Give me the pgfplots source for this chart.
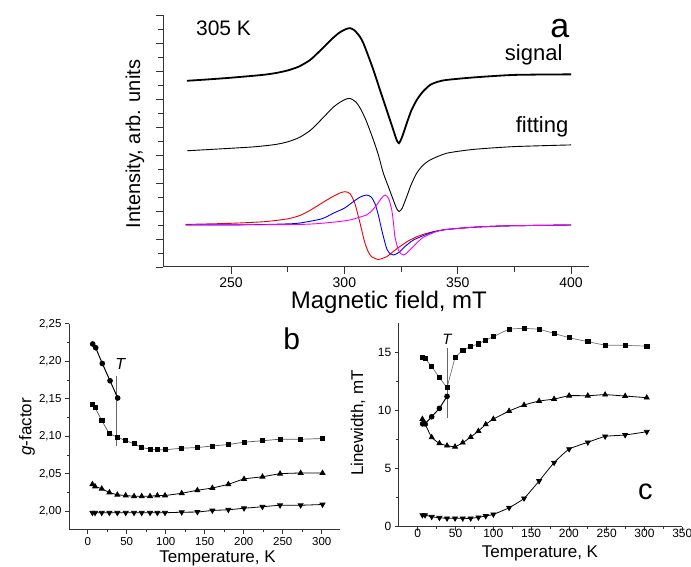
\documentclass[border=0pt]{standalone}
\usepackage{fontspec}
\setmainfont{Liberation Sans}
\usepackage{pgfplots}
\pgfplotsset{compat=1.18}
\newcommand\fs[1]{\fontsize{#1}{#1}\selectfont}
\definecolor{cred}{RGB}{235,0,0}
\definecolor{cblue}{RGB}{0,0,245}
\definecolor{cmag}{RGB}{245,0,245}
\pgfplotsset{
  panel/.style={scale only axis, anchor=south west, axis lines=left,
    axis line style={-, line width=1pt, black!80},
    tick align=outside, tick style={line width=0.8pt, black!80},
    major tick length=5pt, minor tick length=3pt,
    /pgf/number format/assume math mode=true, clip=false},
  sq/.style={line width=0.7pt, mark=square*, mark size=2.1pt, mark options={draw=black, fill=black}},
  ci/.style={black, line width=1pt, mark=*, mark size=2.3pt, mark options={draw=black, fill=black}},
  tu/.style={black, line width=0.8pt, mark=triangle*, mark size=2.8pt, mark options={draw=black, fill=black}},
  td/.style={black, line width=0.8pt, mark=triangle*, mark size=2.8pt, mark options={draw=black, fill=black, rotate=180}},
}

\begin{document}
\begin{tikzpicture}
\path[use as bounding box] (0pt,0pt) rectangle (691pt,567pt);

% panel a
\begin{axis}[panel, at={(163pt,300pt)}, width=426.2pt, height=252pt,
  xmin=220, xmax=408, ymin=0, ymax=9,
  xtick={250,300,350,400}, minor x tick num=1,
  ytick={0,...,9}, yticklabels={}, minor y tick num=1,
  major tick length=7pt, minor tick length=5pt,
  xticklabel style={font=\fs{14}},
  xlabel={Magnetic field, mT}, ylabel={Intensity, arb. units},
  xlabel style={font=\fs{24}, at={(axis description cs:0.53,-0.163)}, anchor=base},
  ylabel style={font=\fs{20}, at={(axis description cs:-0.066,0.488)}, anchor=center},
]
\addplot[black, line width=1.8pt, smooth, tension=0.4] coordinates {
(230.5,6.65)(240,6.70)(250,6.76)(260,6.83)(265,6.87)(270,6.93)(275,7.02)(280,7.16)
(285,7.40)(290,7.78)(295,8.18)(298,8.38)(300.5,8.49)(302.5,8.53)(304.5,8.45)
(306.9,8.22)(308.4,7.99)(310.5,7.55)(312.8,7.04)(315,6.50)(317.2,5.96)(319.5,5.40)
(321.6,4.89)(323,4.55)(324.1,4.42)(325.5,4.65)(327.5,5.13)(329.5,5.58)(331.9,5.96)
(334.5,6.25)(337.8,6.50)(341,6.61)(345,6.68)(357,6.77)(375,6.86)(400,6.88)};
\addplot[black, line width=0.9pt, smooth, tension=0.4] coordinates {
(230.5,4.15)(250,4.24)(260,4.29)(265,4.33)(270,4.38)(275,4.47)(280,4.62)(285,4.88)
(290,5.28)(295,5.70)(298,5.88)(300.5,5.99)(302.5,6.02)(305,5.90)(307,5.67)
(309.5,5.25)(312.8,4.54)(315,4.00)(317.2,3.35)(319.5,2.85)(321.6,2.39)(323,2.10)
(324.1,1.98)(325.5,2.10)(327.5,2.51)(329.5,2.95)(331.9,3.35)(334.5,3.62)(337.8,3.82)
(345,4.06)(357,4.20)(375,4.30)(400,4.36)};
\addplot[cred, line width=0.9pt, smooth, tension=0.4] coordinates {
(230,1.52)(250,1.56)(265,1.62)(275,1.72)(280.4,1.84)(284.8,2.02)(290,2.28)(295,2.52)
(298,2.64)(300.3,2.69)(302.5,2.62)(304.5,2.30)(306.2,1.80)(307.7,1.30)(309.1,0.85)
(310.5,0.55)(312,0.37)(315,0.27)(318.7,0.37)(321.5,0.55)(324.5,0.73)(328,0.92)
(331.9,1.08)(335,1.17)(339.2,1.26)(345,1.34)(357,1.42)(372,1.47)(400,1.50)};
\addplot[cblue, line width=0.9pt, smooth, tension=0.4] coordinates {
(230,1.50)(260,1.51)(275,1.54)(280.4,1.57)(290,1.72)(295.1,1.92)(300,2.10)(303.9,2.33)
(307,2.50)(309.8,2.57)(311.8,2.50)(313.5,2.27)(315,1.85)(316.5,1.32)(317.8,0.90)
(318.9,0.61)(320.3,0.47)(321.6,0.43)(323,0.47)(324.5,0.55)(327,0.75)(330.4,0.96)
(334.8,1.12)(339.2,1.25)(345,1.34)(357,1.42)(372,1.47)(400,1.50)};
\addplot[cmag, line width=0.9pt, smooth, tension=0.4] coordinates {
(230,1.50)(280.4,1.52)(295,1.60)(302.5,1.68)(306,1.76)(309.8,1.86)(312,2.00)
(314.2,2.21)(316.3,2.45)(317.9,2.57)(319.5,2.45)(320.9,2.04)(321.7,1.55)(322.3,1.08)
(323.8,0.61)(325,0.47)(326,0.43)(327.3,0.48)(328.9,0.61)(331.5,0.82)(334.8,1.06)
(340.7,1.27)(345,1.34)(357,1.42)(372,1.47)(400,1.50)};
\node[anchor=base, font=\fs{21}] at (axis cs:246.7,8.25) {305 K};
\node[anchor=base, font=\fs{34}] at (axis cs:395,8.21) {a};
\node[anchor=base, font=\fs{22}] at (axis cs:383.5,7.36) {signal};
\node[anchor=base, font=\fs{22}] at (axis cs:387.2,4.80) {fitting};
\end{axis}

% panel b
\begin{axis}[panel, at={(69pt,37pt)}, width=270.66pt, height=206.25pt,
  xmin=-24, xmax=323, ymin=1.975, ymax=2.25,
  xtick={0,50,...,300}, minor x tick num=1,
  ytick={2.00,2.05,2.10,2.15,2.20,2.25}, minor y tick num=1,
  yticklabel style={/pgf/number format/.cd, fixed, fixed zerofill, precision=2, use comma},
  tick label style={font=\fs{11.5}},
  major tick length=4pt, minor tick length=2.5pt,
  xlabel={Temperature, K}, ylabel={{\itshape g}-factor},
  xlabel style={font=\fs{17}, at={(axis description cs:0.549,-0.16)}, anchor=base},
  ylabel style={font=\fs{17}, at={(axis description cs:-0.155,0.5)}, anchor=center},
]
\addplot[black!60, line width=0.6pt] coordinates {(37,2.18)(37,2.087)};
\addplot[sq, black!65, smooth, tension=0.3] coordinates {
(6,2.142)(9.4,2.138)(18,2.121)(27.8,2.104)(38,2.099)(48.7,2.094)(59.4,2.090)
(69.2,2.085)(79.9,2.083)(89.3,2.082)(99.1,2.082)(120.5,2.084)(140.6,2.085)
(159.8,2.087)(180.3,2.089)(200.4,2.092)(224,2.094)(246.6,2.096)(273,2.096)(301,2.097)};
\addplot[ci] coordinates {
(6.4,2.223)(10.2,2.218)(18.7,2.197)(28.6,2.174)(38.4,2.151)};
\addplot[tu, smooth, tension=0.3] coordinates {
(6,2.036)(9.4,2.033)(18,2.030)(27.8,2.025)(38,2.022)(48.7,2.021)(59.4,2.020)
(69.2,2.020)(79.9,2.020)(89.3,2.021)(99.1,2.021)(120.5,2.024)(140.6,2.028)
(159.8,2.031)(180.3,2.036)(200.4,2.043)(224,2.046)(246.6,2.050)(273,2.051)(301,2.051)};
\addplot[td, smooth, tension=0.3] coordinates {
(6,1.998)(9.4,1.998)(18,1.998)(27.8,1.998)(38,1.998)(48.7,1.998)(59.4,1.998)
(69.2,1.998)(79.9,1.998)(89.3,1.998)(99.1,1.998)(120.5,1.9987)(140.6,1.999)
(159.8,2.001)(180.3,2.002)(200.4,2.004)(224,2.006)(246.6,2.008)(273,2.008)(301,2.009)};
\node[anchor=base, font=\fs{30}] at (axis cs:261.5,2.2156) {b};
\node[anchor=base, font=\itshape\fs{16}] at (axis cs:41.8,2.189) {T};
\end{axis}

% panel c
\begin{axis}[panel, at={(398.8pt,40.3pt)}, width=283.5pt, height=203.4pt,
  xmin=-25, xmax=350, ymin=0, ymax=17.5,
  xtick={0,50,...,350}, minor x tick num=1,
  ytick={0,5,10,15}, minor y tick num=1,
  tick label style={font=\fs{12}},
  xticklabel style={yshift=5pt},
  major tick length=4pt, minor tick length=2.5pt,
  xlabel={Temperature, K}, ylabel={Linewidth, mT},
  xlabel style={font=\fs{17}, at={(axis description cs:0.498,-0.153)}, anchor=base},
  ylabel style={font=\fs{17}, at={(axis description cs:-0.144,0.51)}, anchor=center},
]
\addplot[black!60, line width=0.6pt] coordinates {(38.7,15.35)(38.7,9.33)};
\addplot[sq, black!55] coordinates {
(6.2,14.54)(9.7,14.48)(18.5,13.77)(28.7,12.82)(38.8,11.96)(49.4,14.57)};
\addplot[sq, black!55, smooth, tension=0.3] coordinates {
(49.4,14.57)(59.6,15.17)(70.1,15.49)(80.3,15.74)(90,16.06)(100.1,16.35)(120.9,16.98)
(140.7,17.06)(160.6,16.98)(180.4,16.63)(200.3,16.26)(225,15.92)(247.9,15.63)
(274.4,15.6)(303,15.54)};
\addplot[ci] coordinates {
(6.5,8.85)(9.7,8.85)(18.5,9.46)(28.7,10.18)(38.8,11.21)};
\addplot[tu, smooth, tension=0.3] coordinates {
(6.2,9.26)(9.7,8.85)(18.5,7.69)(28.7,7.17)(38.8,6.97)(49.4,6.88)(59.6,7.23)
(70.1,7.71)(80.3,8.23)(90,8.8)(100.1,9.26)(120.9,9.95)(140.7,10.47)(160.6,10.81)
(180.4,10.98)(200.3,11.27)(225,11.27)(247.9,11.36)(274.4,11.24)(303,11.1)};
\addplot[td, smooth, tension=0.3] coordinates {
(6.2,1.0)(9.7,1.0)(18.5,0.86)(28.7,0.77)(38.8,0.72)(49.4,0.72)(59.6,0.72)
(70.1,0.72)(80.3,0.8)(90,0.92)(100.1,1.06)(120.9,1.63)(140.7,2.44)(160.6,3.93)
(180.4,5.51)(200.3,6.68)(225,7.26)(247.9,7.77)(274.4,7.89)(303,8.17)};
\node[anchor=base, font=\fs{29}] at (axis cs:301.3,2.3) {c};
\node[anchor=base, font=\itshape\fs{15}] at (axis cs:38.7,15.64) {T};
\end{axis}
\end{tikzpicture}
\end{document}
